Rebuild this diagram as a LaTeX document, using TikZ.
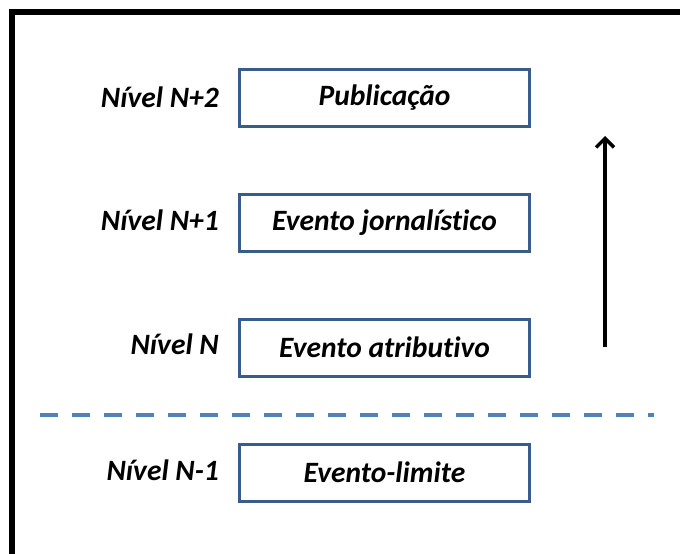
\documentclass[tikz,border=0pt]{standalone}
\usepackage{fontspec}
\setmainfont[Ligatures={NoCommon}]{Carlito}
\usetikzlibrary{arrows.meta}
\definecolor{boxblue}{RGB}{56,93,138}
\definecolor{dashblue}{RGB}{79,129,189}
\begin{document}
\begin{tikzpicture}[x=1pt,y=-1pt,
  txt/.style={font=\fontsize{29.5}{34}\selectfont\bfseries\itshape},
  box/.style={txt, draw=boxblue, line width=3pt, minimum width=290pt, minimum height=57pt, inner sep=0pt, anchor=center},
  lvl/.style={txt, anchor=east, inner sep=0pt}]
\useasboundingbox (0,0) rectangle (680,554);
\clip (0,0) rectangle (680,554);
\fill[white] (0,0) rectangle (680,554);
\draw[line width=6pt] (12,600) -- (12,12) -- (720,12);
\node[box] (b1) at (384.5,98) {Publicação};
\node[box] (b2) at (384.5,223) {Evento jornalístico};
\node[box] (b3) at (384.5,347.5) {Evento atributivo};
\node[box] (b4) at (384.5,472.5) {Evento-limite};
\node[lvl] (l1) at (219,97) {Nível N+2};
\node[lvl] (l2) at (219,220) {Nível N+1};
\node[lvl] (l3) at (219,344) {Nível N};
\node[lvl] (l4) at (219,470) {Nível N-1};
\coordinate (as) at (605,347);
\coordinate (ae) at (605,136);
\draw[line width=3.5pt, -{Straight Barb[length=9pt,width=18pt,line width=3.5pt]}] (as) -- (ae);
\coordinate (ds) at (40,415);
\coordinate (de) at (654,415);
\draw[dashblue, line width=4pt, dash pattern=on 18pt off 14pt] (ds) -- (de);
\end{tikzpicture}
\end{document}
